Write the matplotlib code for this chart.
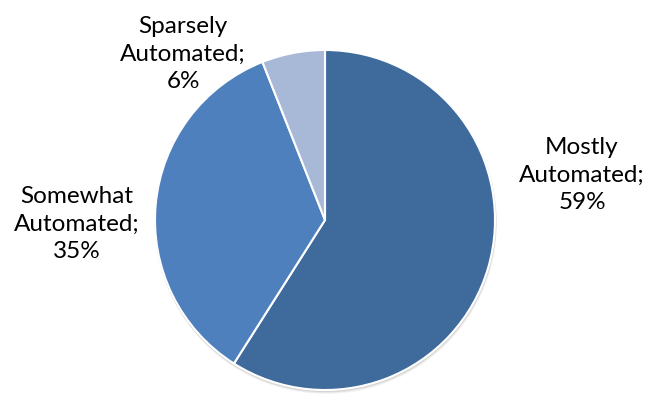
import matplotlib.pyplot as plt
from matplotlib.patches import Circle

# share of respondents by automation level
categories = ['Mostly\nAutomated', 'Somewhat\nAutomated', 'Sparsely\nAutomated']
values = [59, 35, 6]
colors = ['#3f6a9c', '#4e80bd', '#a8b9d7']

plt.rcParams['font.family'] = ['Lato', 'DejaVu Sans']

fig = plt.figure(figsize=(6.48, 3.94), dpi=100)
ax = fig.add_axes([0, 0, 1, 1])

# soft drop shadow under the pie
for off, a in [(3, 0.08), (2, 0.12), (1, 0.18)]:
    ax.add_patch(Circle((325 + off * 0.3, 174 - off), 171, color='gray',
                        alpha=a, lw=0, zorder=0))

ax.pie(values, colors=colors, startangle=90, counterclock=False,
       center=(325, 174), radius=170, frame=True,
       wedgeprops=dict(edgecolor='white', linewidth=1.5, zorder=1))
ax.set_xlim(0, 648)
ax.set_ylim(0, 394)
ax.set_aspect('equal')
ax.axis('off')

# label positions next to each slice
label_pos = [(582, 219), (77, 170), (183, 340)]
for name, v, (x, y) in zip(categories, values, label_pos):
    ax.text(x, y, '%s;\n%d%%' % (name, v), ha='center', va='center',
            fontsize=17.5, linespacing=1.4, color='black')

fig.savefig('out.png', dpi=100)
